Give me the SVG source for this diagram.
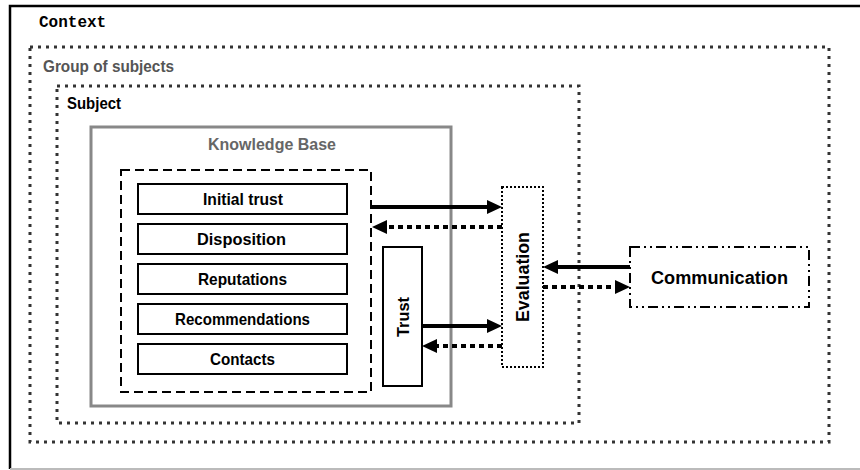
<svg xmlns="http://www.w3.org/2000/svg" width="860" height="470" viewBox="0 0 860 470">
<style>
  .lbl { font-family: "Liberation Sans", Arial, sans-serif; font-weight: bold; fill: #000; }
  .it { font-size: 16.5px; }
  .item { fill: #fff; stroke: #000; stroke-width: 2; }
  .grp { fill: none; stroke: #333; stroke-width: 3; stroke-dasharray: 3 5; }
  .solid { fill: none; stroke: #000; stroke-width: 4; }
  .dot { fill: none; stroke: #000; stroke-width: 4; stroke-dasharray: 5 4; }
</style>
<defs>
  <marker id="ah" viewBox="0 0 15 14" refX="2" refY="7" markerWidth="15" markerHeight="14" markerUnits="userSpaceOnUse" orient="auto">
    <path d="M0,0 L15,7 L0,14 z" fill="#000"/>
  </marker>
</defs>
<rect width="860" height="470" fill="#fff"/>
<g id="context">
  <path d="M10,469 L10,6 L860,6" fill="none" stroke="#000" stroke-width="2.5"/>
  <path d="M10,469 L860,469" fill="none" stroke="#bbb" stroke-width="2"/>
  <text x="39" y="27" style="font-family:'Liberation Mono','Courier New',monospace;font-weight:bold;font-size:16px">Context</text>
</g>
<g id="group-of-subjects">
  <rect class="grp" x="30" y="47" width="799" height="395"/>
  <text class="lbl" x="43" y="72" textLength="131" lengthAdjust="spacingAndGlyphs" style="font-size:16.5px;fill:#555">Group of subjects</text>
</g>
<g id="subject">
  <rect class="grp" x="57" y="86" width="522" height="337"/>
  <text class="lbl" x="67" y="109" textLength="54" lengthAdjust="spacingAndGlyphs" style="font-size:16.5px">Subject</text>
</g>
<g id="knowledge-base">
  <rect x="91" y="127" width="360" height="279" fill="none" stroke="#888" stroke-width="3"/>
  <text class="lbl" x="208" y="150" textLength="128" lengthAdjust="spacingAndGlyphs" style="font-size:17px;fill:#666">Knowledge Base</text>
</g>
<g id="kb-contents">
  <rect x="121" y="170" width="250" height="222" fill="none" stroke="#000" stroke-width="2" stroke-dasharray="9 5"/>
</g>
<g id="initial-trust">
  <rect class="item" x="138" y="184" width="209" height="30"/>
  <text class="lbl it" x="203" y="205" textLength="80" lengthAdjust="spacingAndGlyphs">Initial trust</text>
</g>
<g id="disposition">
  <rect class="item" x="138" y="224" width="209" height="30"/>
  <text class="lbl it" x="197" y="245" textLength="89" lengthAdjust="spacingAndGlyphs">Disposition</text>
</g>
<g id="reputations">
  <rect class="item" x="138" y="264" width="209" height="30"/>
  <text class="lbl it" x="198" y="285" textLength="89" lengthAdjust="spacingAndGlyphs">Reputations</text>
</g>
<g id="recommendations">
  <rect class="item" x="138" y="304" width="209" height="30"/>
  <text class="lbl it" x="175" y="325" textLength="135" lengthAdjust="spacingAndGlyphs">Recommendations</text>
</g>
<g id="contacts">
  <rect class="item" x="138" y="344" width="209" height="30"/>
  <text class="lbl it" x="210" y="365" textLength="65" lengthAdjust="spacingAndGlyphs">Contacts</text>
</g>
<g id="trust">
  <rect class="item" x="383" y="247" width="39" height="139"/>
  <text class="lbl" transform="translate(409,337) rotate(-90)" textLength="40" lengthAdjust="spacingAndGlyphs" style="font-size:17px">Trust</text>
</g>
<g id="evaluation">
  <rect x="502" y="187" width="41" height="180" fill="none" stroke="#000" stroke-width="2" stroke-dasharray="2 2"/>
  <text class="lbl" transform="translate(529,322) rotate(-90)" textLength="90" lengthAdjust="spacingAndGlyphs" style="font-size:18px">Evaluation</text>
</g>
<g id="communication">
  <rect x="630" y="247" width="179" height="60" fill="none" stroke="#000" stroke-width="2" stroke-dasharray="10 4 2 4 2 4"/>
  <text class="lbl" x="651" y="284" textLength="137" lengthAdjust="spacingAndGlyphs" style="font-size:18px">Communication</text>
</g>
<g id="connectors">
  <path class="solid" d="M371,207 L489,207" marker-end="url(#ah)"/>
  <path class="dot" d="M502,227 L385,227" marker-end="url(#ah)"/>
  <path class="solid" d="M422,326 L489,326" marker-end="url(#ah)"/>
  <path class="dot" d="M502,346 L435,346" marker-end="url(#ah)"/>
  <path class="solid" d="M630,267 L556,267" marker-end="url(#ah)"/>
  <path class="dot" d="M543,287 L617,287" marker-end="url(#ah)"/>
</g>
</svg>
